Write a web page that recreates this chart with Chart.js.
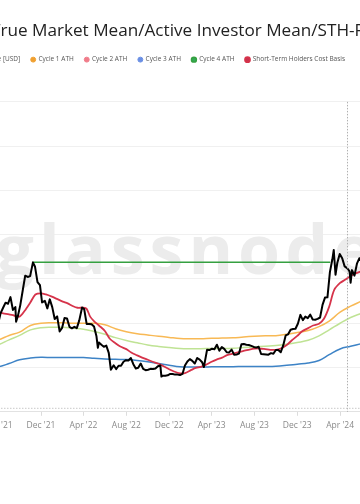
<!DOCTYPE html>
<html>
<head>
<meta charset="utf-8">
<script src="https://cdn.jsdelivr.net/npm/chart.js@4.4.1/dist/chart.umd.min.js"></script>
<style>
  html, body { margin: 0; padding: 0; background: #fff; overflow: hidden; width: 360px; height: 504px; }
  #wrap { position: absolute; left: -32px; top: 0; width: 520px; height: 504px; }
</style>
</head>
<body>
<div id="wrap"><canvas id="chart"></canvas></div>
<script>
// --- data (USD) ---
const priceDates = [
  '2021-07-25','2021-08-01','2021-08-08','2021-08-15','2021-08-22','2021-08-29','2021-09-05','2021-09-12','2021-09-19','2021-09-21','2021-09-26','2021-10-03','2021-10-10','2021-10-17','2021-10-24','2021-10-31','2021-11-08','2021-11-14','2021-11-21','2021-11-28','2021-12-04','2021-12-12','2021-12-19','2021-12-26',
  '2022-01-02','2022-01-09','2022-01-16','2022-01-23','2022-01-30','2022-02-06','2022-02-13','2022-02-20','2022-02-27','2022-03-06','2022-03-13','2022-03-20','2022-03-28','2022-04-03','2022-04-10','2022-04-17','2022-04-24','2022-05-01','2022-05-08','2022-05-12','2022-05-15','2022-05-22','2022-05-29','2022-06-05','2022-06-12','2022-06-18','2022-06-26','2022-07-03','2022-07-10','2022-07-17','2022-07-24','2022-07-31','2022-08-07','2022-08-14','2022-08-21','2022-08-28','2022-09-04','2022-09-11','2022-09-18','2022-09-25','2022-10-02','2022-10-09','2022-10-16','2022-10-23','2022-10-30','2022-11-06','2022-11-09','2022-11-13','2022-11-20','2022-11-27','2022-12-04','2022-12-11','2022-12-18','2022-12-25',
  '2023-01-01','2023-01-08','2023-01-15','2023-01-22','2023-01-29','2023-02-05','2023-02-12','2023-02-19','2023-02-26','2023-03-05','2023-03-10','2023-03-19','2023-03-26','2023-04-02','2023-04-09','2023-04-16','2023-04-23','2023-04-30','2023-05-07','2023-05-14','2023-05-21','2023-05-28','2023-06-04','2023-06-11','2023-06-18','2023-06-25','2023-07-02','2023-07-09','2023-07-16','2023-07-23','2023-07-30','2023-08-06','2023-08-13','2023-08-20','2023-08-27','2023-09-03','2023-09-10','2023-09-17','2023-09-24','2023-10-01','2023-10-08','2023-10-15','2023-10-22','2023-10-29','2023-11-05','2023-11-12','2023-11-19','2023-11-26','2023-12-03','2023-12-10','2023-12-17','2023-12-24','2023-12-31',
  '2024-01-07','2024-01-14','2024-01-21','2024-01-28','2024-02-04','2024-02-11','2024-02-18','2024-02-25','2024-03-03','2024-03-10','2024-03-14','2024-03-19','2024-03-24','2024-03-31','2024-04-07','2024-04-14','2024-04-21','2024-04-28','2024-05-01','2024-05-05','2024-05-12','2024-05-19','2024-05-26','2024-06-02','2024-06-09'
];
const priceValues = [
  35400,39900,44600,47000,49300,48800,51800,46000,47300,40700,43200,48200,54900,61500,60900,61300,67500,65500,58600,57200,49400,50100,46700,50800,
  47300,41900,43100,36300,37900,42400,42200,38400,37700,38400,37800,41300,47100,46400,39700,39700,39500,38500,34100,28900,31300,30300,29400,29900,26600,19000,21000,19300,20800,20800,22600,23300,23200,24300,21500,19600,19900,21800,19400,18800,19000,19400,19300,19600,20600,20900,15900,16300,16300,16500,17100,17100,16800,16800,
  16600,17100,20900,22700,23800,23000,21800,24300,23600,22400,20200,28000,27900,28500,28300,30300,27600,29200,28400,26900,26800,28100,25800,25900,26300,30500,30600,30300,30200,29800,29300,29000,29400,26100,26000,25900,25800,26500,26200,27900,27900,26900,30000,34500,35000,37100,37400,37500,39900,43800,41400,43000,42300,
  43900,41700,41600,42000,42600,48300,51600,51700,63100,68900,73100,61900,67200,71300,69400,65700,64900,63400,58300,64000,61500,66900,69400,67800,69600
];

const monthDates = [
  '2021-07-01','2021-08-01','2021-09-01','2021-10-01','2021-11-01','2021-12-01',
  '2022-01-01','2022-02-01','2022-03-01','2022-04-01','2022-05-01','2022-06-01','2022-07-01','2022-08-01','2022-09-01','2022-10-01','2022-11-01','2022-12-01',
  '2023-01-01','2023-02-01','2023-03-01','2023-04-01','2023-05-01','2023-06-01','2023-07-01','2023-08-01','2023-09-01','2023-10-01','2023-11-01','2023-12-01',
  '2024-01-01','2024-02-01','2024-03-01','2024-04-01','2024-05-01','2024-06-01'
];
const activeInvestorMean = [
  31500,32500,34500,36000,39000,40000,
  40200,40200,40000,40000,40000,39300,37500,36200,35300,34700,34100,33600,
  33100,33000,33000,33200,33300,33400,33800,34100,34300,34400,35000,35800,
  36700,38500,41000,45000,47700,50000
];
const trueMarketMean = [
  29000,30300,32500,34500,37000,38000,
  38200,38200,37800,37300,36300,35000,33500,32200,31200,30200,29500,29000,
  28600,28500,28500,28600,28600,28700,29000,29300,29600,29900,30500,31300,
  32300,34300,37000,40000,42600,44500
];
const realizedPrice = [
  19800,20300,21800,23500,24300,24600,
  24500,24500,24500,24500,24200,23900,23700,23600,23200,22600,21800,21000,
  20300,20200,20200,20300,20400,20400,20500,20500,20500,20600,21000,21500,
  22000,23200,25800,28400,29600,30800
];

const sthDates = [
  '2021-07-01','2021-07-15','2021-08-01','2021-08-15','2021-09-01','2021-09-15','2021-10-01','2021-10-15','2021-11-01','2021-11-15','2021-12-01','2021-12-15',
  '2022-01-01','2022-01-15','2022-02-01','2022-02-15','2022-03-01','2022-03-15','2022-04-01','2022-04-10','2022-04-20','2022-05-01','2022-05-15','2022-06-01','2022-06-15','2022-07-01','2022-07-15','2022-08-01','2022-08-15','2022-09-01','2022-09-15','2022-10-01','2022-10-15','2022-11-01','2022-11-15','2022-12-01','2022-12-15',
  '2023-01-01','2023-01-15','2023-02-01','2023-02-15','2023-03-01','2023-03-15','2023-04-01','2023-04-15','2023-05-01','2023-05-15','2023-06-01','2023-06-15','2023-07-01','2023-07-15','2023-08-01','2023-08-15','2023-09-01','2023-09-15','2023-10-01','2023-10-15','2023-11-01','2023-11-15','2023-12-01','2023-12-15',
  '2024-01-01','2024-01-15','2024-02-01','2024-02-15','2024-03-01','2024-03-15','2024-04-01','2024-04-15','2024-05-01','2024-05-15','2024-06-01'
];
const sthCostBasis = [
  47000,46000,45000,44500,44000,43500,43000,45500,49500,53000,53500,53000,
  52000,51000,49800,49000,47800,47000,47000,46500,43000,41000,39000,36500,33000,31000,29500,28300,26800,25500,24500,23500,22600,21700,20600,19200,18200,
  17400,17500,18800,19800,20300,21200,22600,23600,24500,25600,26300,26900,27500,28000,28500,28600,28300,28000,28000,28600,30200,32200,34300,36400,
  37800,39000,39800,42000,47500,55000,58200,59600,61300,62500,63500
];

const cycle4AthDates = ['2021-11-08', '2024-03-04'];
const cycle4AthValues = [67550, 67550];

const halvingDates = ['2024-04-20'];

const tickDates = ['2021-08-01','2021-12-01','2022-04-01','2022-08-01','2022-12-01','2023-04-01','2023-08-01','2023-12-01','2024-04-01','2024-08-01'];
const tickLabels = ["Aug '21","Dec '21","Apr '22","Aug '22","Dec '22","Apr '23","Aug '23","Dec '23","Apr '24","Aug '24"];

// --- helpers ---
const day = s => Date.UTC(+s.slice(0, 4), +s.slice(5, 7) - 1, +s.slice(8, 10)) / 86400000;
const pts = (dates, values) => dates.map((d, i) => ({ x: day(d), y: values[i] }));
const tickDays = tickDates.map(day);

const legendGap = {
  id: 'legendGap',
  beforeInit(chart) {
    const fit = chart.legend.fit;
    chart.legend.fit = function () {
      fit.call(this);
      this.height += 29;
    };
  }
};

const watermark = {
  id: 'watermark',
  beforeDatasetsDraw(chart) {
    const { ctx } = chart;
    ctx.save();
    ctx.font = '700 68px "Open Sans"';
    ctx.letterSpacing = '5px';
    ctx.fillStyle = '#ececec';
    ctx.textAlign = 'center';
    ctx.textBaseline = 'alphabetic';
    ctx.fillText('glassnode', 187 - chart.canvas.getBoundingClientRect().left, 274);
    ctx.restore();
  }
};

// halving marker + dotted baseline guide
const guides = {
  id: 'guides',
  afterDatasetsDraw(chart) {
    const { ctx, chartArea, scales } = chart;
    ctx.save();
    ctx.strokeStyle = '#b0b0b0';
    ctx.lineWidth = 1;
    ctx.setLineDash([1.5, 1.5]);
    halvingDates.forEach(d => {
      const x = Math.round(scales.x.getPixelForValue(day(d))) + 0.5;
      ctx.beginPath();
      ctx.moveTo(x, chartArea.top);
      ctx.lineTo(x, chartArea.bottom);
      ctx.stroke();
    });
    ctx.strokeStyle = '#c8c8c8';
    ctx.beginPath();
    ctx.moveTo(chartArea.left, chartArea.bottom - 3.5);
    ctx.lineTo(chartArea.right, chartArea.bottom - 3.5);
    ctx.stroke();
    ctx.restore();
  }
};

const ctx = document.getElementById('chart').getContext('2d');
new Chart(ctx, {
  type: 'line',
  data: {
    datasets: [
      { label: 'Price [USD]', data: pts(priceDates, priceValues), borderColor: '#000', backgroundColor: '#000', borderWidth: 2 },
      { label: 'Cycle 1 ATH', data: [], borderColor: '#f0a030', backgroundColor: '#f0a030', borderWidth: 1 },
      { label: 'Cycle 2 ATH', data: [], borderColor: '#f07c8a', backgroundColor: '#f07c8a', borderWidth: 1 },
      { label: 'Cycle 3 ATH', data: [], borderColor: '#6a8fe4', backgroundColor: '#6a8fe4', borderWidth: 1 },
      { label: 'Cycle 4 ATH', data: pts(cycle4AthDates, cycle4AthValues), borderColor: '#35a040', backgroundColor: '#33aa55', borderWidth: 1.5 },
      { label: 'Short-Term Holders Cost Basis', data: pts(sthDates, sthCostBasis), borderColor: '#d6334a', backgroundColor: '#c8324f', borderWidth: 1.8, tension: 0.3 },
      { label: 'Active Investor Mean', data: pts(monthDates, activeInvestorMean), borderColor: '#f8b955', backgroundColor: '#f8b955', borderWidth: 1.5, tension: 0.4 },
      { label: 'True Market Mean', data: pts(monthDates, trueMarketMean), borderColor: '#bfe394', backgroundColor: '#bfe394', borderWidth: 1.5, tension: 0.4 },
      { label: 'Realized Price', data: pts(monthDates, realizedPrice), borderColor: '#3d83c6', backgroundColor: '#3d83c6', borderWidth: 1.5, tension: 0.4 }
    ]
  },
  options: {
    responsive: true,
    maintainAspectRatio: false,
    animation: false,
    layout: { padding: { top: 0, left: 0, right: 0, bottom: 68 } },
    elements: { point: { radius: 0 }, line: { borderJoinStyle: 'round' } },
    plugins: {
      title: {
        display: true,
        text: 'True Market Mean/Active Investor Mean/STH-Realized Price',
        color: '#222',
        font: { family: 'Open Sans', size: 17.15, weight: 'normal' },
        padding: { top: 21, bottom: 3.8 }
      },
      legend: {
        align: 'start',
        labels: {
          usePointStyle: true,
          pointStyle: 'circle',
          boxWidth: 4,
          boxHeight: 3.5,
          padding: 11,
          color: '#555',
          font: { family: 'Open Sans', size: 6.5 },
          filter: item => item.datasetIndex < 6
        }
      },
      tooltip: { enabled: false }
    },
    scales: {
      x: {
        type: 'linear',
        min: day('2021-05-07'),
        max: day('2024-09-13'),
        grid: { drawOnChartArea: false, drawTicks: true, tickLength: 4, color: '#dcdcdc' },
        border: { color: '#e2e2e2' },
        afterBuildTicks: scale => { scale.ticks = tickDays.map(v => ({ value: v })); },
        ticks: {
          autoSkip: false,
          maxRotation: 0,
          padding: 5,
          color: '#8a8a8a',
          font: { family: 'Open Sans', size: 8.5 },
          callback: v => tickLabels[tickDays.indexOf(v)]
        }
      },
      y: {
        position: 'right',
        min: 0,
        max: 140000,
        afterFit: scale => { scale.width = 90; },
        grid: { color: '#f0f0f0', drawTicks: false },
        border: { display: false },
        ticks: {
          stepSize: 20000,
          color: '#8a8a8a',
          font: { family: 'Open Sans', size: 8.5 },
          callback: v => '$' + (v / 1000) + 'k'
        }
      }
    }
  },
  plugins: [legendGap, watermark, guides]
});
</script>
</body>
</html>
